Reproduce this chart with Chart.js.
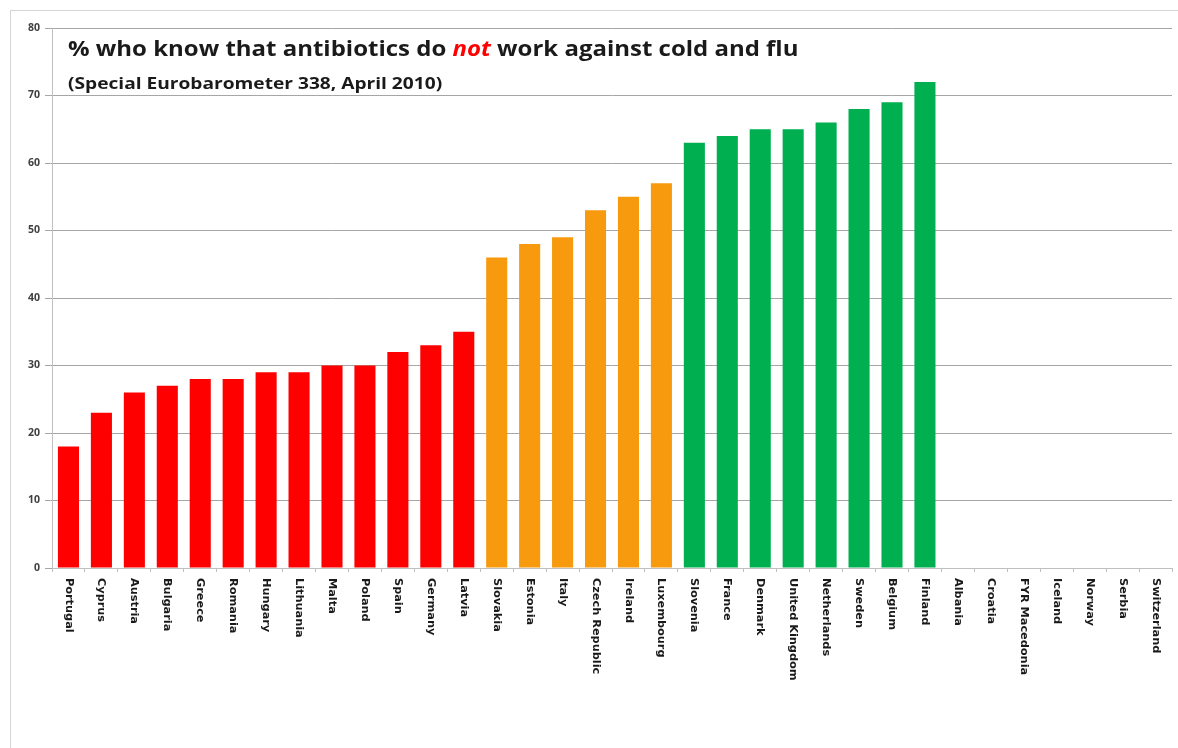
<!doctype html>
<html lang="en">

<head>
	<meta charset="utf-8">
	<title>Antibiotics knowledge</title>
	<style>
		* {
			margin: 0;
			padding: 0;
		}

		body {
			background: #fff;
			width: 1178px;
			height: 748px;
			overflow: hidden;
			position: relative;
		}

		.frame {
			position: absolute;
			left: 10px;
			top: 10px;
			width: 1200px;
			height: 800px;
			border: 1px solid #d4d4d4;
		}

		#euroChart {
			position: absolute;
			left: 0;
			top: 0;
		}
	</style>
</head>

<body>
	<div class="frame"></div>
	<canvas id="euroChart" width="1178" height="748"></canvas>

	<script src="https://cdn.jsdelivr.net/npm/chart.js"></script>

	<script>
		const countries = [
			'Portugal', 'Cyprus', 'Austria', 'Bulgaria', 'Greece', 'Romania', 'Hungary',
			'Lithuania', 'Malta', 'Poland', 'Spain', 'Germany', 'Latvia',
			'Slovakia', 'Estonia', 'Italy', 'Czech Republic', 'Ireland', 'Luxembourg',
			'Slovenia', 'France', 'Denmark', 'United Kingdom', 'Netherlands', 'Sweden',
			'Belgium', 'Finland',
			'Albania', 'Croatia', 'FYR Macedonia', 'Iceland', 'Norway', 'Serbia', 'Switzerland'
		]
		const percentKnow = [
			18, 23, 26, 27, 28, 28, 29, 29, 30, 30, 32, 33, 35,
			46, 48, 49, 53, 55, 57,
			63, 64, 65, 65, 66, 68, 69, 72,
			null, null, null, null, null, null, null
		]
		// band per country: 0 = low, 1 = middle, 2 = high
		const band = [
			0, 0, 0, 0, 0, 0, 0, 0, 0, 0, 0, 0, 0,
			1, 1, 1, 1, 1, 1,
			2, 2, 2, 2, 2, 2, 2, 2,
			2, 2, 2, 2, 2, 2, 2
		]
		const bandColors = ['#ff0000', '#f79a0e', '#00b050']
		const yTicks = [0, 10, 20, 30, 40, 50, 60, 70, 80]

		const titleParts = [
			{ text: '% who know that antibiotics do ', color: '#1a1a1a', italic: false },
			{ text: 'not', color: '#ff0000', italic: true },
			{ text: ' work against cold and flu', color: '#1a1a1a', italic: false }
		]
		const subtitle = '(Special Eurobarometer 338, April 2010)'

		const ctx = document.getElementById('euroChart')

		// title drawn inside the plot area, top left (text a bit stretched, like the source)
		const titlePlugin = {
			id: 'insideTitle',
			afterDraw(chart) {
				const c = chart.ctx
				const left = chart.chartArea.left + 16
				c.save()
				c.textBaseline = 'middle'
				c.textAlign = 'left'
				c.translate(left, 0)
				c.scale(1.09, 1)
				let x = 0
				titleParts.forEach(p => {
					c.font = (p.italic ? 'italic ' : '') + 'bold 22px "Open Sans"'
					c.fillStyle = p.color
					c.fillText(p.text, x, 50)
					x += c.measureText(p.text).width
				})
				c.restore()

				c.save()
				c.textBaseline = 'middle'
				c.textAlign = 'left'
				c.translate(left, 0)
				c.scale(1.16, 1)
				c.font = 'bold 16.5px "Open Sans"'
				c.fillStyle = '#1a1a1a'
				c.fillText(subtitle, 0, 84)
				c.restore()
			}
		}

		// category labels turned clockwise, reading downwards
		const xLabelPlugin = {
			id: 'xLabels',
			afterDraw(chart) {
				const c = chart.ctx
				const xs = chart.scales.x
				c.save()
				c.font = 'bold 11.3px "DejaVu Sans"'
				c.fillStyle = '#1a1a1a'
				c.textAlign = 'left'
				c.textBaseline = 'middle'
				countries.forEach((name, i) => {
					const px = xs.getPixelForTick(i)
					c.save()
					c.translate(px, xs.top + 10)
					c.rotate(Math.PI / 2)
					c.fillText(name, 0, 0)
					c.restore()
				})
				c.restore()
			}
		}

		const data = {
			labels: countries,
			datasets: [{
				label: '% who know',
				data: percentKnow,
				backgroundColor: band.map(b => bandColors[b]),
				barPercentage: 0.64,
				categoryPercentage: 1.0
			}]
		}

		const config = {
			type: 'bar',
			data,
			options: {
				responsive: false,
				animation: false,
				layout: {
					padding: { left: 10, top: 28, right: 6, bottom: 0 }
				},
				plugins: {
					legend: { display: false },
					tooltip: { enabled: false }
				},
				scales: {
					x: {
						offset: true,
						grid: {
							offset: true,
							display: true,
							drawOnChartArea: false,
							drawTicks: true,
							tickLength: 4,
							color: '#bfbfbf'
						},
						border: { color: '#bfbfbf' },
						ticks: { display: false },
						afterFit(scale) { scale.height = 180 }
					},
					y: {
						min: 0,
						max: 80,
						afterBuildTicks(scale) {
							scale.ticks = yTicks.map(v => ({ value: v }))
						},
						grid: {
							color: '#a6a6a6',
							tickLength: 7
						},
						border: { color: '#bfbfbf' },
						ticks: {
							padding: 5,
							color: '#404040',
							font: { family: '"Open Sans"', size: 10.5, weight: 'bold' }
						},
						afterFit(scale) { scale.width = 42 }
					}
				}
			},
			plugins: [titlePlugin, xLabelPlugin]
		}

		const euroChart = new Chart(ctx, config)
	</script>

</body>

</html>
